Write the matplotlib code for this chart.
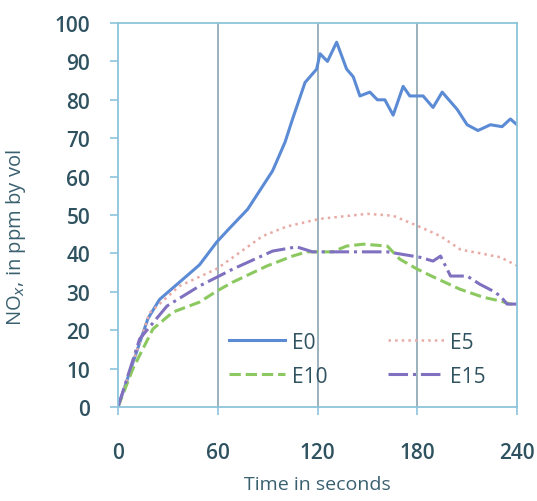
import matplotlib.pyplot as plt

plt.rcParams['font.family'] = ['Open Sans', 'DejaVu Sans']

# --------------------------
# Data
# --------------------------
t_e0 = [0, 7, 18, 25, 37, 49, 59.5, 67, 78, 87, 93, 100.5, 105, 112.5, 119.5, 121.5, 126, 131.5,
        137.5, 141.5, 145.5, 151.5, 156, 160.5, 165.5, 171.5, 175.5, 183.5, 189.5, 195, 204, 210,
        216.5, 224, 231, 236, 240]
v_e0 = [0, 9, 23, 28, 32.5, 37, 43, 46.5, 51.5, 57.5, 61.5, 69, 75, 84.5, 88, 92, 90, 95,
        88, 86, 81, 82, 80, 80, 76, 83.5, 81, 81, 78, 82, 77.5, 73.5,
        72, 73.5, 73, 75, 73.5]

t_e5 = [0, 7, 19, 37, 59.5, 87, 101.5, 121.5, 150, 165.5, 180, 194, 206, 230, 240]
v_e5 = [0, 9, 24.5, 31.5, 36, 44.5, 47, 49, 50.3, 49.8, 47.2, 44.5, 41, 39, 36.8]

t_e10 = [0, 9, 21, 33, 49, 59.5, 69, 89.5, 105, 113.5, 129, 137.5, 147.5, 162, 169.5, 180,
         189.5, 205.5, 219.5, 230, 236, 240]
v_e10 = [0, 10, 20.3, 24.7, 27.3, 30.2, 32.5, 36.7, 39.3, 40.4, 40.4, 41.9, 42.4, 41.9, 38.5, 35.9,
         33.9, 30.7, 28.6, 27.6, 26.8, 26.8]

t_e15 = [0, 13, 29.5, 49, 69, 93, 107.5, 117, 141.5, 162, 181.5, 189.5, 194, 200, 210, 217.5,
         225.5, 230, 234, 240]
v_e15 = [0, 17.7, 26.3, 31.5, 35.9, 40.6, 41.7, 40.4, 40.4, 40.4, 39, 38, 39.3, 34.1, 34.1, 32,
         30.2, 28.9, 26.8, 26.8]

x_ticks = [0, 60, 120, 180, 240]
y_ticks = list(range(0, 101, 10))

# --------------------------
# Plot
# --------------------------
fig = plt.figure(figsize=(5.37, 5.02), dpi=100)
ax = fig.add_axes([0.2197, 0.1873, 0.7431, 0.7649])

for xv in [60, 120, 180]:
    ax.axvline(xv, color='#8aa4b2', lw=1.2, zorder=0)

l0, = ax.plot(t_e0, v_e0, color='#5b8bd4', lw=2.2, label='E0')
l5, = ax.plot(t_e5, v_e5, color='#e8aaa4', lw=1.8, ls=':', label='E5')
l10, = ax.plot(t_e10, v_e10, color='#8cc860', lw=2.2, ls='--', label='E10')
l15, = ax.plot(t_e15, v_e15, color='#8070c0', lw=2.2, ls='-.', label='E15')

ax.set_xlim(0, 240)
ax.set_ylim(0, 100)
ax.set_xticks(x_ticks)
ax.set_yticks(y_ticks)

for s in ax.spines.values():
    s.set_color('#8cc4dc')
    s.set_linewidth(1.3)

ax.tick_params(axis='both', colors='#8cc4dc', labelcolor='#2f5260', labelsize=15, length=6, width=1.2)
ax.tick_params(axis='x', pad=19)
ax.tick_params(axis='y', pad=14)
for lab in ax.get_xticklabels() + ax.get_yticklabels():
    lab.set_fontweight('semibold')

ax.set_xlabel('Time in seconds', fontsize=14, color='#3a6070', labelpad=9)
ax.set_ylabel('NO$_x$, in ppm by vol', fontsize=14.5, color='#3a6070')
ax.yaxis.set_label_coords(-0.225, 0.443)

# legend fills column-wise, so order gives rows E0/E5 and E10/E15
leg = ax.legend([l0, l10, l5, l15], ['E0', 'E10', 'E5', 'E15'], ncol=2, loc='lower center',
                bbox_to_anchor=(0.60, 0.004), frameon=False,
                fontsize=15, handlelength=2.7, columnspacing=2.9, handletextpad=0.3,
                labelspacing=0.62)
for txt in leg.get_texts():
    txt.set_color('#2f5260')

fig.savefig('out.png', dpi=100)
